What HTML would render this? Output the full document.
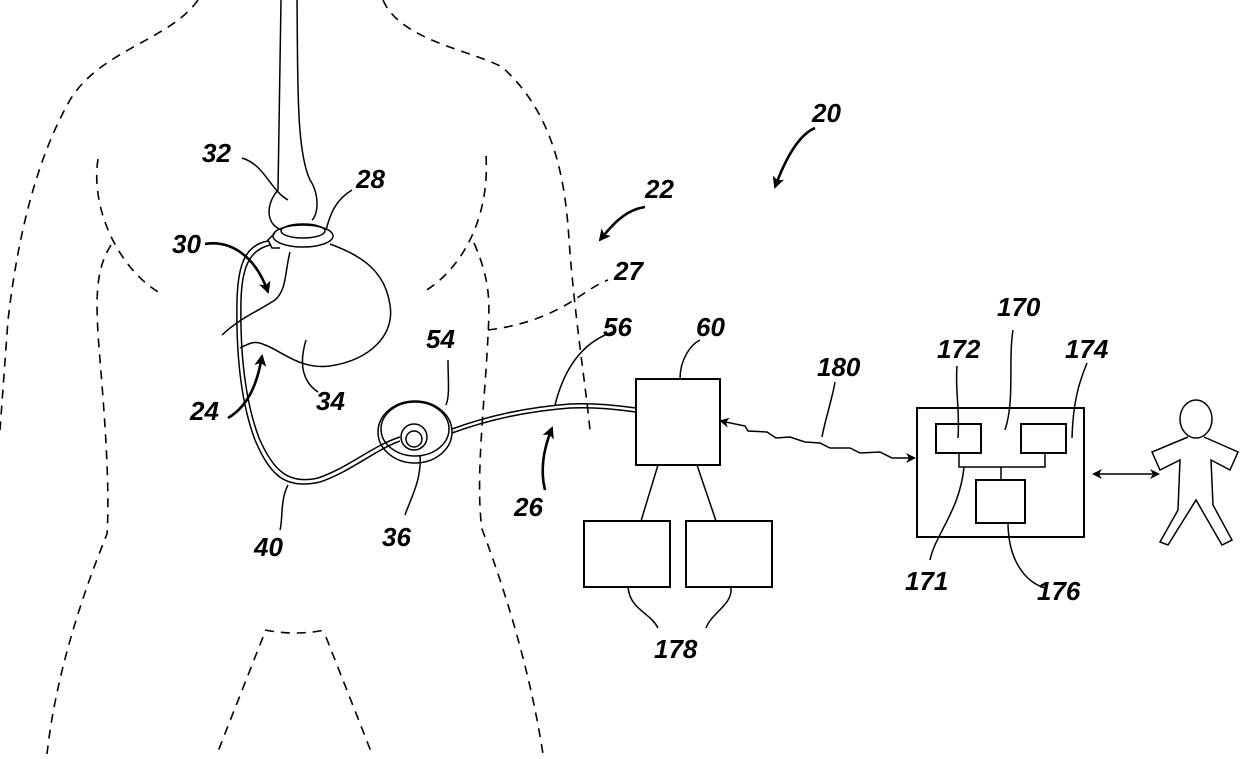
<!DOCTYPE html>
<html><head><style>
html,body{margin:0;padding:0;background:#fff;}
svg text{font-family:"Liberation Sans",sans-serif;font-weight:bold;font-style:italic;font-size:26px;fill:#000;}
</style></head><body>
<svg width="1240" height="754" viewBox="0 0 1240 754" xmlns="http://www.w3.org/2000/svg">
<defs>
<marker id="ah" markerWidth="10" markerHeight="10" refX="8" refY="5" orient="auto-start-reverse" markerUnits="userSpaceOnUse"><path d="M0,0 L10,5 L0,10 L3,5 Z" fill="#000"/></marker>
<marker id="ah2" markerWidth="12" markerHeight="12" refX="10" refY="6" orient="auto" markerUnits="userSpaceOnUse"><path d="M0,0 L12,6 L0,12 L3,6 Z" fill="#000"/></marker>
</defs>
<g fill="none" stroke="#000" stroke-width="1.6" stroke-dasharray="9,7">
<path d="M198,0 C170,40 100,50 70,100 C30,170 15,260 8,320 L0,430"/>
<path d="M383,0 C400,40 470,50 502,67 C550,110 565,170 569,240 C575,320 585,380 590,430"/>
<path d="M98,159 C90,210 120,270 160,293"/>
<path d="M486,156 C490,220 460,270 425,291"/>
<path d="M111,245 C95,270 95,300 100,360 C105,420 110,490 107,534 C80,600 55,680 47,754"/>
<path d="M474,243 C490,280 490,300 488,336 C485,400 475,480 482,529 C505,590 530,670 543,754"/>
<path d="M265,630 C285,634 305,634 325,630"/>
<path d="M263,637 L217,754"/>
<path d="M326,637 L372,754"/>
<path d="M488,330 C530,325 560,310 580,296 C592,288 600,283 608,280"/>
</g>
<g fill="none" stroke="#000" stroke-width="1.5">
<path d="M281,0 L278,190 C265,205 266,225 282,230"/>
<path d="M297,0 C298,80 296,150 310,180 C320,195 318,215 312,220"/>
<ellipse cx="303" cy="236" rx="30" ry="11"/>
<ellipse cx="303" cy="231" rx="22" ry="7"/>
<path d="M275,233 L268,240 L272,248 L280,248"/>
<path d="M330,244 C360,255 385,270 390,305 C395,335 370,360 330,366 C300,370 280,350 265,345 C255,340 250,343 240,348"/>
<path d="M290,252 C285,270 287,290 275,300 C260,310 240,318 222,335"/>
<path d="M306,340 C300,360 300,380 318,392" />
<path d="M268,241 C245,245 238,265 237,300 C236,350 240,400 255,440 C270,475 285,490 320,482 C350,472 375,450 400,441"/>
<path d="M270,245 C249,250 242,268 241,300 C240,350 244,398 259,438 C273,470 288,485 318,478 C348,468 372,446 400,437"/>
<ellipse cx="415" cy="432" rx="37" ry="31"/>
<ellipse cx="415" cy="429" rx="34" ry="27"/>
<circle cx="414" cy="437" r="13"/>
<circle cx="414" cy="439" r="8"/>
<path d="M452,429 C490,415 530,407 570,404 C600,403 620,406 636,408"/>
<path d="M452,433 C490,419 530,411 570,408 C600,407 620,410 636,412"/>
<rect x="636" y="379" width="84" height="86" stroke-width="2"/>
<rect x="584" y="521" width="86" height="66" stroke-width="2"/>
<rect x="686" y="521" width="86" height="66" stroke-width="2"/>
<path d="M658,465 L641,521 M697,465 L716,521"/>
<rect x="917" y="408" width="167" height="129" stroke-width="2"/>
<rect x="936" y="424" width="45" height="29" stroke-width="2"/>
<rect x="1021" y="424" width="45" height="29" stroke-width="2"/>
<rect x="976" y="480" width="49" height="43" stroke-width="2"/>
<path d="M959,453 L959,467 L1045,467 L1045,453 M1001,467 L1001,480"/>
<ellipse cx="1196" cy="419" rx="16" ry="19"/>
<path d="M1188,437 L1152,452 L1160,470 L1180,460 L1178,510 L1160,542 L1168,545 L1196,500 L1222,545 L1232,540 L1213,505 L1211,460 L1230,470 L1238,452 L1204,437"/>
<path d="M1094,474 L1158,474" marker-end="url(#ah)" marker-start="url(#ah)"/>
<path d="M721,421 L745,426 L748,431 L767,432 L776,438 L790,437 L805,442 L820,443 L830,448 L850,448 L860,453 L880,452 L892,458 L914,458" marker-end="url(#ah)" marker-start="url(#ah)"/>
<path d="M242,158 C265,165 270,190 288,200"/>
<path d="M352,190 C335,200 330,215 326,230"/>
<path d="M448,360 C448,380 450,395 446,405"/>
<path d="M616,331 C585,340 565,365 555,405"/>
<path d="M700,340 C690,345 680,360 680,379"/>
<path d="M835,382 C832,400 825,420 822,437"/>
<path d="M1013,330 C1008,360 1015,400 1005,430"/>
<path d="M957,366 C955,390 960,410 958,438"/>
<path d="M1087,363 C1080,380 1073,400 1072,438"/>
<path d="M964,467 C960,510 935,535 930,560"/>
<path d="M1008,522 C1008,560 1025,582 1045,588"/>
<path d="M628,587 C630,610 650,612 658,628"/>
<path d="M731,587 C733,605 712,612 706,628"/>
<path d="M288,485 C280,500 283,520 280,530"/>
<path d="M420,455 C422,480 410,500 405,515"/>
</g>
<g fill="none" stroke="#000" stroke-width="2.6">
<path d="M205,244 C230,240 255,255 268,292" marker-end="url(#ah2)"/>
<path d="M228,418 C250,405 258,380 262,356" marker-end="url(#ah2)"/>
<path d="M545,490 C540,470 543,450 552,428" marker-end="url(#ah2)"/>
<path d="M645,207 C625,210 612,225 600,240" marker-end="url(#ah2)"/>
<path d="M815,128 C798,135 785,160 775,187" marker-end="url(#ah2)"/>
</g>
<text x="812" y="122">20</text>
<text x="645" y="198">22</text>
<text x="614" y="280">27</text>
<text x="202" y="162">32</text>
<text x="356" y="188">28</text>
<text x="172" y="253">30</text>
<text x="426" y="348">54</text>
<text x="603" y="336">56</text>
<text x="696" y="336">60</text>
<text x="817" y="376">180</text>
<text x="997" y="316">170</text>
<text x="937" y="358">172</text>
<text x="1065" y="358">174</text>
<text x="190" y="420">24</text>
<text x="316" y="410">34</text>
<text x="514" y="516">26</text>
<text x="254" y="556">40</text>
<text x="382" y="546">36</text>
<text x="905" y="590">171</text>
<text x="1037" y="600">176</text>
<text x="654" y="658">178</text>
</svg>
</body></html>
